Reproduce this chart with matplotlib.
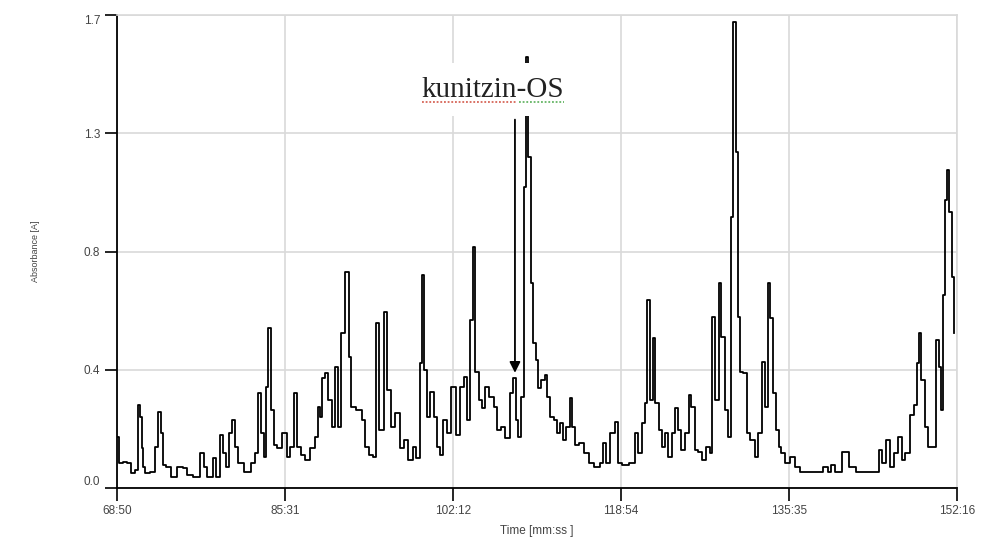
import matplotlib
matplotlib.use("Agg")
import matplotlib.pyplot as plt
from matplotlib.lines import Line2D
import numpy as np

# ---- data (time in minutes, absorbance) ----
time_min = [
    68.83, 69.03, 69.13, 69.63, 70.12, 70.42, 70.82, 70.92, 71.22, 71.32,
    71.42, 71.81, 72.41, 72.81, 73.10, 73.30, 73.50, 73.90, 74.40, 75.09,
    75.59, 76.08, 76.78, 77.28, 77.57, 78.07, 78.57, 78.77, 79.26, 79.56,
    79.76, 80.16, 80.36, 80.75, 81.05, 81.85, 82.34, 82.74, 82.94, 83.34,
    83.53, 83.73, 83.93, 84.23, 84.53, 85.02, 85.52, 85.82, 86.31, 86.61,
    86.91, 87.31, 87.80, 88.30, 88.70, 88.80, 89.10, 89.29, 89.69, 89.99,
    90.29, 90.68, 90.98, 91.28, 91.68, 91.98, 92.27, 92.97, 93.27, 93.66,
    94.06, 94.46, 94.66, 95.15, 95.55, 95.85, 96.15, 96.74, 97.14, 97.54,
    97.94, 98.43, 98.73, 99.03, 99.23, 99.52, 99.82, 100.12, 100.42, 100.72,
    101.11, 101.41, 101.81, 102.21, 102.70, 103.10, 103.40, 103.70, 104.09, 104.29,
    104.59, 104.89, 105.19, 105.58, 106.08, 106.38, 106.68, 107.17, 107.67, 108.07,
    108.27, 108.56, 108.86, 109.16, 109.36, 109.56, 109.85, 110.05, 110.35, 110.55,
    110.75, 111.15, 111.44, 111.64, 112.04, 112.34, 112.73, 113.03, 113.33, 113.63,
    113.93, 114.12, 114.52, 115.02, 115.42, 116.01, 116.51, 117.01, 117.30, 117.60,
    118.10, 118.50, 118.79, 119.29, 119.99, 120.48, 120.78, 121.08, 121.38, 121.58,
    121.97, 122.17, 122.47, 122.77, 123.07, 123.46, 123.76, 124.06, 124.36, 124.75,
    125.05, 125.45, 125.75, 126.04, 126.44, 126.74, 127.14, 127.53, 127.93, 128.03,
    128.43, 128.73, 129.02, 129.42, 129.72, 129.82, 130.12, 130.42, 130.61, 130.81,
    131.21, 131.51, 132.00, 132.40, 132.70, 133.00, 133.39, 133.59, 133.89, 134.09,
    134.39, 134.69, 134.98, 135.38, 135.98, 136.47, 136.97, 138.66, 139.16, 139.65,
    139.95, 140.35, 141.34, 141.64, 142.83, 144.32, 144.62, 144.92, 145.41, 145.81,
    146.11, 146.61, 146.90, 147.40, 147.80, 148.19, 148.39, 148.59, 148.89, 149.19,
    149.59, 150.08, 150.28, 150.58, 150.78, 150.98, 151.17, 151.37, 151.67, 151.87,
    151.97,
]

absorbance = [
    0.183, 0.183, 0.090, 0.094, 0.090, 0.054, 0.065, 0.299, 0.255, 0.144,
    0.076, 0.054, 0.058, 0.147, 0.273, 0.198, 0.083, 0.076, 0.040, 0.076,
    0.072, 0.047, 0.040, 0.126, 0.076, 0.040, 0.108, 0.040, 0.191, 0.126,
    0.076, 0.198, 0.245, 0.147, 0.090, 0.058, 0.090, 0.126, 0.342, 0.198,
    0.112, 0.363, 0.576, 0.281, 0.155, 0.144, 0.198, 0.112, 0.147, 0.342,
    0.147, 0.119, 0.101, 0.144, 0.183, 0.291, 0.255, 0.396, 0.414, 0.317,
    0.219, 0.435, 0.219, 0.558, 0.777, 0.471, 0.291, 0.281, 0.245, 0.147,
    0.119, 0.112, 0.594, 0.209, 0.633, 0.353, 0.219, 0.270, 0.144, 0.173,
    0.101, 0.147, 0.108, 0.450, 0.766, 0.424, 0.255, 0.345, 0.255, 0.147,
    0.119, 0.245, 0.198, 0.363, 0.191, 0.363, 0.399, 0.245, 0.604, 0.867,
    0.417, 0.317, 0.288, 0.363, 0.327, 0.291, 0.209, 0.219, 0.180, 0.342,
    0.396, 0.245, 0.183, 0.327, 1.083, 1.550, 1.191, 0.737, 0.522, 0.460,
    0.360, 0.388, 0.406, 0.327, 0.255, 0.245, 0.198, 0.234, 0.173, 0.219,
    0.324, 0.219, 0.155, 0.162, 0.126, 0.090, 0.076, 0.090, 0.162, 0.090,
    0.198, 0.237, 0.090, 0.083, 0.090, 0.198, 0.126, 0.234, 0.306, 0.676,
    0.317, 0.540, 0.306, 0.209, 0.147, 0.198, 0.112, 0.198, 0.288, 0.209,
    0.137, 0.198, 0.335, 0.291, 0.137, 0.129, 0.101, 0.147, 0.126, 0.615,
    0.317, 0.737, 0.543, 0.281, 0.183, 0.975, 1.676, 1.209, 0.615, 0.417,
    0.414, 0.198, 0.173, 0.112, 0.198, 0.453, 0.291, 0.737, 0.612, 0.342,
    0.209, 0.147, 0.126, 0.090, 0.112, 0.076, 0.058, 0.058, 0.076, 0.058,
    0.083, 0.058, 0.129, 0.076, 0.058, 0.058, 0.137, 0.090, 0.173, 0.076,
    0.126, 0.183, 0.101, 0.126, 0.263, 0.299, 0.450, 0.558, 0.388, 0.219,
    0.147, 0.147, 0.532, 0.435, 0.281, 0.694, 1.036, 1.144, 0.993, 0.759,
    0.558,
]

x_tick_labels = ["68:50", "85:31", "102:12", "118:54", "135:35", "152:16"]
y_tick_labels = ["0.0", "0.4", "0.8", "1.3", "1.7"]
y_max = 1.7

annotation_word = "kunitzin"
annotation_suffix = "-OS"
arrow_time = 108.36        # minutes
arrow_tip = 0.414
arrow_tail = 1.324
label_time = 106.18
label_abs = 1.432

assert len(time_min) == len(absorbance)

def mmss_to_min(s):
    m, sec = s.split(":")
    return int(m) + int(sec) / 60.0

x_ticks = [mmss_to_min(s) for s in x_tick_labels]

plt.rcParams["font.family"] = ["Liberation Sans", "DejaVu Sans"]

fig = plt.figure(figsize=(9.92, 5.54), dpi=100)
ax = fig.add_axes([117 / 992, (554 - 488) / 554, (957 - 117) / 992, (488 - 15) / 554])

grid_c = "#d9d9d9"
ax.plot(time_min, absorbance, color="black", lw=1.3, drawstyle="steps-mid", zorder=3)

ax.set_xlim(x_ticks[0], x_ticks[-1])
ax.set_ylim(0, y_max)
ax.set_xticks(x_ticks)
ax.set_xticklabels(x_tick_labels)
ax.set_yticks(np.linspace(0, y_max, len(y_tick_labels)))
ax.set_yticklabels(y_tick_labels)

ax.grid(True, color=grid_c, lw=1.2, zorder=0)
ax.set_axisbelow(True)
for side in ("top", "right"):
    ax.spines[side].set_color(grid_c)
    ax.spines[side].set_linewidth(1.2)
for side in ("left", "bottom"):
    ax.spines[side].set_color("black")
    ax.spines[side].set_linewidth(1.3)

ax.tick_params(axis="both", direction="out", length=9, width=1.2, color="black",
               labelsize=8.5, labelcolor="#444444", pad=3)

ylabs = ax.get_yticklabels()
ylabs[0].set_va("bottom")
ylabs[-1].set_va("top")

ax.set_xlabel("Time [mm:ss ]", fontsize=8.5, color="#444444", labelpad=6)
fig.text(35 / 992, 1 - 251 / 554, "Absorbance [A]", rotation=90, fontsize=6.5,
         color="#444444", ha="center", va="center")

ax.annotate("", xy=(arrow_time, arrow_tip), xytext=(arrow_time, arrow_tail),
            arrowprops=dict(arrowstyle="-|>", color="black", lw=1.3,
                            mutation_scale=16, shrinkA=0, shrinkB=0),
            zorder=4)

serif = ["Liberation Serif", "DejaVu Serif"]
txt = ax.text(label_time, label_abs, annotation_word + annotation_suffix, fontsize=21,
              family=serif, color="#222222", ha="center", va="center", zorder=6,
              bbox=dict(boxstyle="square,pad=0.45", facecolor="white", edgecolor="none"))

# spell-check style dotted underlines (red under the word, green under the suffix)
fig.canvas.draw()
renderer = fig.canvas.get_renderer()
full_bb = txt.get_window_extent(renderer)
probe = ax.text(0, 0, annotation_word, fontsize=21, family=serif)
word_w = probe.get_window_extent(renderer).width
probe.remove()
y_ul = full_bb.y0 + 1
x0 = full_bb.x0
x_split = x0 + word_w
x1 = full_bb.x1
H = fig.bbox.height
W = fig.bbox.width
fig.add_artist(Line2D([x0 / W, x_split / W], [y_ul / H, y_ul / H], transform=fig.transFigure,
                      color="#d04a3a", lw=1.1, ls=(0, (1.2, 1.2)), zorder=10))
fig.add_artist(Line2D([(x_split + 2) / W, x1 / W], [y_ul / H, y_ul / H], transform=fig.transFigure,
                      color="#4aa84a", lw=1.1, ls=(0, (1.2, 1.2)), zorder=10))

fig.savefig("out.png", dpi=100)
